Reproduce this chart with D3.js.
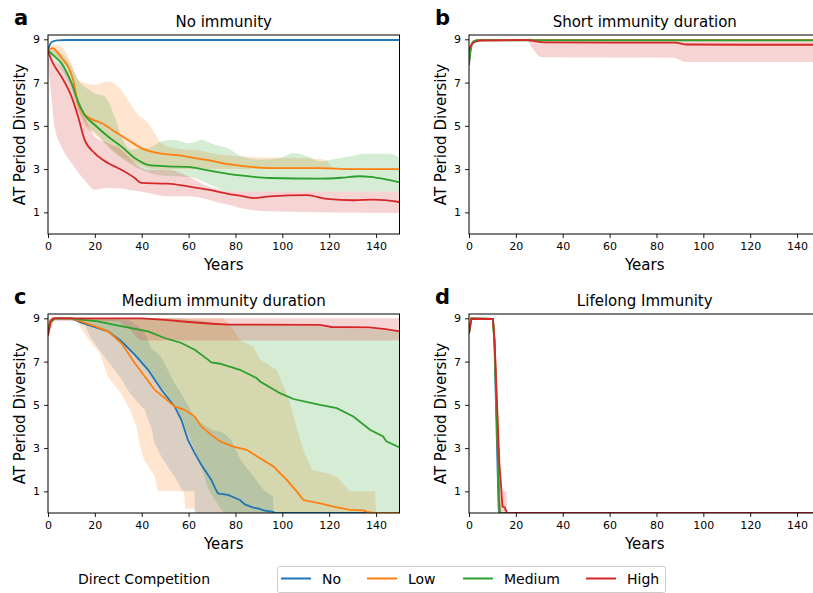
<!DOCTYPE html>
<html>
<head>
<meta charset="utf-8">
<script src="https://cdn.jsdelivr.net/npm/d3@7"></script>
<style>
  body { margin: 0; background: #fff; }
  text { font-family: "DejaVu Sans", sans-serif; fill: #000; }
</style>
</head>
<body>
<svg id="chart" width="813" height="593"></svg>
<script>
// competition levels and their colours
const seriesNames = ["No", "Low", "Medium", "High"];
const seriesColors = ["#1f77b4", "#ff7f0e", "#2ca02c", "#d62728"];
const xTicks = [0, 20, 40, 60, 80, 100, 120, 140];
const yTicks = [1, 3, 5, 7, 9];
const panelTitles = ["No immunity", "Short immunity duration", "Medium immunity duration", "Lifelong Immunity"];
const panelLetters = ["a", "b", "c", "d"];

// panel a: [year, diversity]
const aNo = [[0,8.5],[1,8.8],[2,8.9],[4,8.95],[8,8.97],[150,8.97]];
const aLow = [[0,8.5],[2,8.59],[4.3,8.36],[6.5,8.05],[8.5,7.75],[10.7,7.13],[12.8,6.05],[15,5.6],[18.5,5.31],[22.8,5.13],[28.4,4.74],[34,4.36],[39.8,3.97],[45.5,3.77],[56.9,3.62],[62.6,3.51],[71,3.36],[76.8,3.23],[82,3.16],[94.7,3.05],[116,3.05],[130,3.0],[150,3.0]];
const aMed = [[0,8.5],[2.1,8.28],[5.7,7.9],[10,6.98],[12.8,6.13],[15.6,5.51],[19.9,5.05],[25.6,4.51],[31.3,4.05],[37,3.51],[42.7,3.2],[51.2,3.13],[59.7,3.1],[68.3,2.94],[76.8,2.78],[82,2.71],[94.7,2.59],[116,2.56],[125,2.6],[133,2.67],[137.6,2.64],[144.8,2.51],[150,2.39]];
const aHigh = [[0,8.45],[2.1,7.9],[5.7,7.28],[10,6.36],[12.8,5.44],[15.6,4.36],[19.9,3.74],[25.6,3.28],[31.3,2.97],[37,2.59],[39.8,2.36],[51.2,2.33],[59.7,2.2],[68.3,2.05],[76.8,1.86],[82,1.77],[87.6,1.66],[94.7,1.74],[110.5,1.8],[119,1.62],[130.5,1.56],[139,1.59],[150,1.48]];
// bands: [year, lower, upper]
const aLowBand = [[0,8.3,8.67],[4.3,8.1,8.75],[10,7.2,7.9],[12.8,5.8,7.13],[15.6,5.0,6.98],[19.9,4.6,6.9],[25.6,4.1,7.05],[29.9,3.7,6.82],[34.1,3.4,6.2],[38.4,3.2,5.51],[42.7,3.05,5.13],[45.5,3.0,4.66],[48.4,3.0,4.2],[55,3.0,3.95],[65,3.0,3.85],[73,3.0,3.67],[90,3.0,3.55],[110,3.0,3.5],[118,3.0,3.45],[122,3.0,3.05],[150,3.0,3.0]];
const aMedBand = [[0,8.36,8.55],[5.7,7.6,8.36],[10,6.67,7.75],[12.8,5.74,7.13],[17,4.97,6.7],[19.9,4.7,6.51],[24.2,4.2,6.36],[28.4,3.74,5.44],[31.3,3.5,4.51],[35.6,3.2,3.9],[39.8,2.97,3.95],[42.7,2.85,3.97],[48.4,2.7,4.28],[54,2.67,4.36],[59.7,2.63,4.2],[62.6,2.59,4.25],[65.4,2.45,4.36],[71,2.2,4.13],[76.8,1.97,3.97],[82,1.97,3.62],[90.5,1.97,3.44],[99,1.97,3.51],[104.7,1.97,3.74],[110.5,1.97,3.59],[116,1.97,3.36],[121.7,1.97,3.46],[130.3,1.97,3.62],[134.5,1.97,3.71],[146,1.97,3.71],[150,1.97,3.51]];
const aHighBand = [[0,7.9,8.6],[1.4,6.36,8.2],[2.8,4.97,8.0],[5.7,4.05,7.75],[10,3.28,7.13],[14.2,2.67,5.8],[15.6,2.5,5.44],[19.9,2.05,4.51],[25.6,2.13,4.2],[31.3,2.1,3.9],[34.1,2.05,3.6],[37,2.0,3.28],[42.7,1.9,2.97],[51.2,1.74,2.97],[59.7,1.74,2.67],[68.3,1.59,2.2],[73.4,1.43,2.05],[76.8,1.36,1.97],[82,1.2,1.97],[94.7,1.05,1.97],[150,0.97,1.97]];

// panel b
const bNo = [[0,8.0],[1,8.7],[2,8.9],[4,8.97],[150,8.97]];
const bLow = [[0,8.0],[1,8.7],[2,8.9],[4,8.96],[150,8.96]];
const bMed = [[0,7.8],[1,8.7],[2,8.9],[4,8.95],[150,8.95]];
const bHigh = [[0,8.5],[1,8.75],[3,8.9],[6,8.95],[25,8.97],[28,8.92],[32,8.86],[60,8.85],[88,8.85],[93,8.76],[120,8.75],[150,8.75]];
const bHighBand = [[0,8.3,8.6],[2,8.85,8.97],[25,8.9,9.0],[27,8.6,9.0],[31,8.17,9.0],[87,8.15,9.0],[93,7.95,9.0],[150,7.95,9.0]];

// panel c
const cNo = [[0,8.4],[1,8.9],[3,9.0],[10,9.0],[14.2,8.8],[21.3,8.55],[25.6,8.4],[31.3,7.94],[37,7.32],[42.7,6.62],[48.4,5.7],[54,4.93],[56.9,4.31],[59.7,3.38],[62.6,2.77],[65.4,2.23],[69.7,1.53],[71.5,1.1],[72.5,0.91],[76.8,0.84],[81.9,0.6],[84,0.4],[87.6,0.25],[90,0.2],[92,0.12],[96,0.05],[97,0],[150,0]];
const cLow = [[0,8.5],[1,8.9],[3,9.0],[10,9.0],[14.2,8.86],[18.5,8.7],[25.6,8.4],[31.3,7.86],[37,6.93],[41.3,6.31],[45.5,5.7],[49.8,5.31],[54,4.93],[58.3,4.77],[62.6,4.46],[65.4,4.0],[69.7,3.61],[73.4,3.31],[79.1,3.07],[84.8,2.92],[90.5,2.53],[96.2,2.15],[101.9,1.53],[106.1,1.0],[109,0.6],[116.1,0.45],[121.8,0.3],[128.9,0.14],[134.6,0.12],[136,0.05],[138.9,0],[150,0]];
const cMed = [[0,8.3],[1,8.8],[3,9.0],[10,9.0],[14.2,8.94],[21.3,8.86],[28.4,8.7],[35.6,8.55],[42.7,8.4],[49.8,8.09],[56.9,7.86],[62.6,7.55],[68.3,7.09],[69.7,6.96],[73.4,6.9],[81.9,6.62],[89,6.24],[90.5,6.08],[99,5.54],[104.7,5.27],[116.1,5.0],[123.2,4.85],[130.3,4.46],[137.4,3.85],[143,3.54],[144.4,3.31],[150,3.03]];
const cHigh = [[0,8.2],[1,8.8],[2,9.0],[40,9.0],[50,8.93],[60,8.83],[70,8.75],[77,8.71],[116,8.7],[121,8.6],[137,8.58],[144,8.5],[150,8.4]];
const cNoBand = [[0,8.3,8.6],[2,8.9,9.0],[15,8.9,9.0],[17.8,8.17,9.0],[22.8,7.4,9.0],[30.6,6.3,8.95],[34.9,5.55,8.9],[40,4.9,8.5],[41.3,4.77,8.3],[42.7,4.3,8.0],[44,4.0,7.6],[45.5,3.23,7.5],[48.4,2.6,7.2],[52.6,1.9,6.3],[54,1.69,6.0],[57,1.1,5.5],[58,1.0,5.3],[62.5,1.0,4.45],[62.6,0,4.4],[65.4,0,4.15],[70,0,3.85],[75,0,3.7],[78,0,3.4],[82,0,2.5],[87.6,0,1.7],[92,0,1.07],[96,0,0.76],[96.3,0,0]];
const cLowBand = [[0,8.5,8.6],[5,9.0,9.0],[12,8.9,9.0],[18,7.9,9.0],[22,7.4,9.0],[25.6,6.3,9.0],[31,5.55,9.0],[35,4.77,9.0],[37.7,4.0,9.0],[39,3.2,9.0],[41,2.46,9.0],[45.5,1.7,9.0],[47,1.0,9.0],[58,1.0,9.0],[58.5,0.2,9.0],[62.5,0.2,9.0],[63,0,9.0],[75,0,9.0],[79,0,8.5],[82,0,7.98],[87.6,0,7.7],[90.5,0,7.1],[97.6,0,6.6],[101.9,0,5.5],[104,0,4.77],[106,0,4.0],[109,0,2.9],[112.6,0,2.0],[119,0,1.84],[123,0,1.69],[128.9,0,1.0],[139.5,0,1.0],[140,0,0]];
const cMedBand = [[0,8.2,8.5],[3,9.0,9.0],[15,8.9,9.0],[20,8.7,9.0],[25,8.4,9.0],[30,8.0,9.0],[35,7.5,9.0],[40,7.0,9.0],[45,6.2,9.0],[50,5.6,9.0],[55,4.8,9.0],[60,3.6,8.95],[65,2.3,8.9],[68,1.2,8.85],[70,0.8,8.8],[75,0,8.75],[100,0,8.7],[115,0,8.65],[120,0,8.55],[140,0,8.5],[150,0,8.35]];
const cHighBand = [[0,8.0,8.5],[2,8.9,9.0],[30,8.85,9.0],[35,8.5,9.0],[38,8.1,9.0],[40,7.98,9.0],[150,7.98,9.0]];

// panel d
const dNo = [[0,8.3],[1,9.0],[10.2,8.97],[10.8,8.0],[12.6,0.3],[12.8,0],[150,0]];
const dLow = [[0,8.3],[1,9.0],[10.2,8.97],[11,7.8],[12.8,1.0],[13.1,0],[150,0]];
const dMed = [[0,8.3],[1,9.0],[10.2,8.97],[11,7.5],[12.9,0.5],[13.2,0],[150,0]];
const dHigh = [[0,8.3],[1,8.97],[10.2,8.97],[10.9,8.0],[13,2.2],[13.8,1.1],[14,0.7],[14.3,0.3],[15.4,0.25],[15.5,0.15],[16,0.1],[16.1,0],[150,0]];
const dHighBand = [[10.2,8.97,9.0],[11,7.5,8.7],[12,3.5,6.0],[13,0.3,2.8],[13.5,0,1.9],[14.3,0,1.0],[16,0,1.0],[16.2,0,0]];

// smooth curves in the top row, stepped runs in the bottom row
const panels = [
  { left: 48, top: 35, smooth: true, lines: [aNo, aLow, aMed, aHigh], bands: [null, aLowBand, aMedBand, aHighBand] },
  { left: 469, top: 35, smooth: true, lines: [bNo, bLow, bMed, bHigh], bands: [null, null, null, bHighBand] },
  { left: 48, top: 314, smooth: false, lines: [cNo, cLow, cMed, cHigh], bands: [cNoBand, cLowBand, cMedBand, cHighBand] },
  { left: 469, top: 314, smooth: false, lines: [dNo, dLow, dMed, dHigh], bands: [null, null, null, dHighBand] }
];

const W = 351.5, H = 199;
const svg = d3.select('#chart');

panels.forEach((p, k) => {
  const x = d3.scaleLinear().domain([0, 150]).range([0, W]);
  const y = d3.scaleLinear().domain([0, 9.2]).range([H, 0]);
  const g = svg.append('g').attr('transform', `translate(${p.left},${p.top})`);
  const curve = p.smooth ? d3.curveMonotoneX : d3.curveLinear;

  g.append('clipPath').attr('id', 'clip' + k)
    .append('rect').attr('width', W).attr('height', H);
  const plot = g.append('g').attr('clip-path', `url(#clip${k})`);

  const area = d3.area().curve(curve).x(d => x(d[0])).y0(d => y(d[1])).y1(d => y(d[2]));
  const line = d3.line().curve(curve).x(d => x(d[0])).y(d => y(d[1]));

  // shaded ranges first, then the mean lines on top
  p.bands.forEach((b, i) => {
    if (!b) return;
    plot.append('path').datum(b)
      .attr('d', area)
      .attr('fill', seriesColors[i])
      .attr('fill-opacity', 0.2);
  });
  p.lines.forEach((l, i) => {
    plot.append('path').datum(l)
      .attr('d', line)
      .attr('fill', 'none')
      .attr('stroke', seriesColors[i])
      .attr('stroke-width', 1.8);
  });

  // axes
  const xAxis = g.append('g').attr('transform', `translate(0,${H})`)
    .call(d3.axisBottom(x).tickValues(xTicks).tickSize(4).tickPadding(4).tickSizeOuter(0));
  const yAxis = g.append('g')
    .call(d3.axisLeft(y).tickValues(yTicks).tickSize(4).tickPadding(4).tickSizeOuter(0));
  [xAxis, yAxis].forEach(a => {
    a.select('.domain').remove();
    a.selectAll('text').attr('font-size', 11).attr('font-family', 'DejaVu Sans');
    a.selectAll('line').attr('stroke', '#000').attr('stroke-width', 0.9);
  });

  g.append('rect')
    .attr('width', W).attr('height', H)
    .attr('fill', 'none').attr('stroke', '#000').attr('stroke-width', 1);

  g.append('text')
    .attr('x', W / 2).attr('y', -8)
    .attr('text-anchor', 'middle').attr('font-size', 15)
    .text(panelTitles[k]);

  g.append('text')
    .attr('x', -34).attr('y', -10)
    .attr('font-size', 21).attr('font-weight', 'bold')
    .text(panelLetters[k]);

  g.append('text')
    .attr('x', W / 2).attr('y', H + 36)
    .attr('text-anchor', 'middle').attr('font-size', 15)
    .text('Years');

  g.append('text')
    .attr('transform', `translate(-23,${H / 2}) rotate(-90)`)
    .attr('text-anchor', 'middle').attr('font-size', 15)
    .text('AT Period Diversity');
});

// legend
svg.append('text')
  .attr('x', 78).attr('y', 584)
  .attr('font-size', 14)
  .text('Direct Competition');

const legend = svg.append('g');
legend.append('rect')
  .attr('x', 277.5).attr('y', 566.5).attr('width', 388).attr('height', 26)
  .attr('rx', 2).attr('fill', '#fff').attr('stroke', '#ccc');
const legendX = [281, 367, 463, 586];
seriesNames.forEach((n, i) => {
  legend.append('line')
    .attr('x1', legendX[i]).attr('x2', legendX[i] + 30)
    .attr('y1', 578.5).attr('y2', 578.5)
    .attr('stroke', seriesColors[i]).attr('stroke-width', 2);
  legend.append('text')
    .attr('x', legendX[i] + 41).attr('y', 584)
    .attr('font-size', 14)
    .text(n);
});
</script>
</body>
</html>
